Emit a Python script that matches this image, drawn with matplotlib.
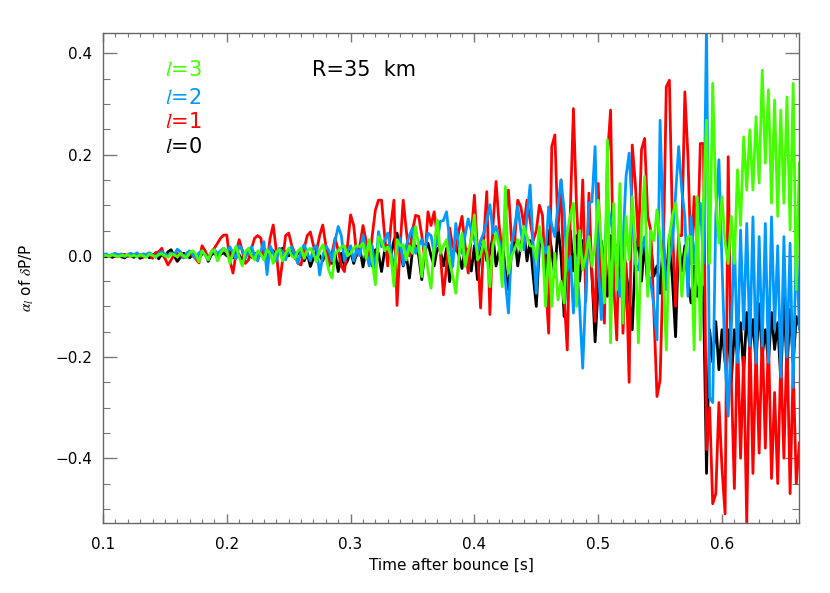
import matplotlib
matplotlib.use("Agg")
import matplotlib.pyplot as plt
import numpy as np
from matplotlib.ticker import MultipleLocator

# time sampling of the curves (s after bounce)
t0 = 0.1
dt = 0.0025

# l=0 coefficient
a0 = [
    0.000, -0.002, 0.001, -0.003, 0.000, 0.002, -0.002, -0.004, 0.001, 0.000,
    -0.003, 0.002, -0.005, -0.002, 0.003, -0.004, 0.000, 0.006, -0.006, 0.004,
    -0.004, 0.008, 0.012, 0.000, -0.011, -0.003, 0.005, 0.002, -0.004, 0.003,
    0.000, -0.006, 0.004, 0.008, -0.011, 0.002, 0.006, -0.004, 0.003, 0.006,
    0.000, 0.008, -0.004, 0.010, 0.002, -0.008, 0.004, 0.010, -0.003, 0.005,
    -0.005, 0.006, 0.000, -0.014, 0.004, 0.010, -0.002, 0.008, 0.015, 0.005,
    0.000, 0.010, -0.005, 0.008, 0.000, -0.010, 0.005, -0.021, -0.005, 0.010,
    0.000, -0.010, 0.012, 0.005, -0.015, 0.004, -0.031, 0.005, -0.020, -0.010,
    0.010, -0.015, 0.005, 0.015, -0.022, 0.010, 0.000, -0.020, 0.012, 0.005,
    -0.031, 0.010, 0.020, 0.000, 0.030, 0.045, 0.010, -0.020, 0.000, -0.044,
    0.010, 0.020, 0.000, -0.047, 0.010, 0.025, 0.000, -0.020, 0.015, 0.010,
    -0.020, 0.015, -0.051, 0.005, 0.020, 0.000, -0.025, 0.015, 0.010, -0.030,
    0.020, -0.047, 0.010, 0.030, -0.010, 0.005, 0.040, -0.020, 0.010, 0.030,
    -0.030, -0.067, 0.010, 0.040, -0.020, 0.020, 0.050, -0.010, 0.030, -0.040,
    -0.100, 0.020, 0.040, -0.030, 0.050, 0.010, -0.040, 0.060, 0.000, -0.120,
    0.010, 0.050, -0.030, 0.040, -0.050, 0.030, -0.020, 0.050, -0.040, -0.170,
    -0.060, 0.030, -0.020, -0.080, 0.040, -0.050, 0.020, -0.060, 0.030, -0.030,
    -0.080, -0.146, 0.000, 0.040, -0.050, 0.030, -0.060, 0.020, -0.040, -0.020,
    -0.074, 0.030, -0.050, 0.040, -0.050, -0.160, 0.030, -0.030, 0.020, -0.050,
    -0.093, -0.020, -0.080, -0.050, -0.067, -0.430, -0.146, -0.210, -0.130, -0.225,
    -0.146, -0.210, -0.146, -0.250, -0.146, -0.198, -0.132, -0.231, -0.112, -0.185,
    -0.126, -0.211, -0.095, -0.198, -0.146, -0.211, -0.112, -0.185, -0.132, -0.248,
    -0.080, -0.225, -0.106, -0.211, -0.120, -0.140,
]

# l=1 coefficient
a1 = [
    0.000, 0.002, -0.001, 0.001, 0.000, -0.002, 0.001, 0.003, -0.001, 0.000,
    0.002, -0.002, 0.003, -0.003, 0.002, 0.004, -0.005, 0.006, 0.008, 0.015,
    -0.005, -0.018, -0.008, 0.002, 0.005, 0.000, -0.004, 0.002, 0.006, 0.000,
    -0.006, -0.014, 0.020, 0.010, -0.005, 0.008, 0.015, 0.025, 0.035, 0.041,
    0.041, -0.010, -0.034, 0.005, 0.032, 0.010, -0.015, -0.008, 0.015, 0.035,
    0.040, 0.035, -0.005, -0.012, 0.035, 0.061, 0.010, -0.057, -0.010, 0.040,
    0.045, 0.020, 0.005, -0.015, -0.018, 0.015, 0.040, 0.047, 0.020, 0.010,
    0.040, 0.061, 0.020, -0.020, 0.005, 0.035, 0.010, -0.020, -0.031, 0.020,
    0.081, 0.060, 0.000, 0.020, 0.060, 0.030, -0.015, 0.040, 0.090, 0.110,
    0.110, 0.040, -0.020, 0.060, 0.110, -0.098, 0.020, 0.110, 0.050, 0.000,
    0.050, 0.080, 0.078, 0.040, -0.008, 0.087, 0.060, 0.087, 0.040, 0.005,
    -0.077, -0.020, 0.055, 0.018, 0.010, 0.050, 0.078, 0.020, -0.034, 0.040,
    0.120, 0.010, -0.103, 0.030, 0.127, -0.116, 0.060, 0.147, 0.060, 0.005,
    0.080, 0.130, 0.030, 0.030, 0.110, 0.097, 0.060, 0.110, 0.070, 0.030,
    0.050, 0.100, 0.080, -0.050, -0.153, 0.216, 0.239, 0.050, 0.150, -0.080,
    -0.186, 0.090, 0.291, 0.097, -0.015, 0.150, -0.090, 0.124, -0.040, -0.130,
    0.143, -0.050, -0.133, 0.197, 0.288, -0.054, -0.166, 0.104, -0.153, -0.015,
    -0.250, 0.219, 0.143, 0.020, 0.210, 0.232, 0.078, 0.050, -0.113, -0.278,
    -0.245, -0.015, 0.334, 0.347, 0.058, -0.100, 0.040, 0.040, 0.324, 0.196,
    -0.015, 0.117, 0.000, 0.222, 0.222, -0.383, -0.300, -0.490, -0.470, -0.290,
    -0.420, -0.510, 0.196, -0.240, -0.460, -0.150, -0.400, -0.200, -0.528, -0.150,
    -0.430, -0.180, -0.390, -0.150, -0.380, -0.160, -0.440, -0.270, -0.450, -0.200,
    -0.400, -0.160, -0.470, -0.220, -0.450, -0.370,
]

# l=2 coefficient
a2 = [
    0.002, 0.004, 0.000, 0.003, 0.005, 0.001, 0.004, -0.002, 0.003, 0.005,
    0.002, 0.006, -0.001, 0.004, 0.003, 0.006, 0.002, -0.003, 0.005, 0.008,
    0.004, 0.000, 0.006, 0.002, 0.013, 0.008, -0.004, 0.005, 0.010, 0.002,
    -0.005, 0.006, 0.010, 0.002, -0.008, 0.005, 0.012, 0.004, 0.010, 0.015,
    0.008, 0.018, 0.005, -0.006, 0.020, 0.012, -0.005, 0.010, 0.018, 0.000,
    -0.010, 0.010, 0.028, -0.037, 0.020, 0.005, -0.010, 0.015, 0.008, -0.008,
    0.012, 0.018, 0.000, -0.015, 0.010, 0.022, 0.005, -0.010, 0.015, 0.020,
    -0.038, 0.000, 0.020, 0.010, -0.010, 0.030, 0.058, 0.040, -0.010, 0.010,
    0.020, -0.010, 0.015, 0.000, 0.041, 0.010, -0.020, 0.020, -0.037, 0.048,
    0.018, 0.030, 0.045, 0.010, -0.021, 0.010, 0.035, -0.018, 0.020, 0.040,
    0.055, 0.005, 0.020, 0.032, 0.010, 0.045, 0.040, 0.005, 0.030, 0.068,
    0.070, 0.087, 0.030, -0.021, 0.064, 0.020, 0.005, 0.040, 0.073, 0.050,
    0.032, 0.005, 0.030, 0.045, 0.070, 0.101, 0.045, 0.058, 0.030, 0.005,
    -0.050, -0.113, 0.020, 0.058, 0.098, 0.050, 0.012, 0.080, 0.140, 0.020,
    -0.074, 0.045, 0.020, 0.005, 0.097, 0.060, 0.038, 0.100, 0.150, 0.090,
    -0.030, 0.000, -0.113, -0.008, -0.100, -0.222, -0.067, 0.104, 0.107, 0.216,
    -0.015, -0.126, 0.000, 0.104, 0.070, 0.038, -0.028, -0.080, 0.025, 0.157,
    0.203, 0.090, -0.015, -0.028, 0.010, 0.038, -0.028, -0.054, -0.100, -0.166,
    0.268, 0.050, -0.067, -0.010, 0.025, 0.120, 0.216, 0.130, 0.078, -0.080,
    0.078, -0.015, 0.050, 0.104, -0.015, 0.460, -0.280, -0.290, 0.080, 0.190,
    -0.015, -0.210, -0.317, -0.146, 0.038, -0.211, 0.051, -0.145, 0.064, -0.178,
    0.077, -0.211, 0.038, -0.178, 0.064, -0.211, 0.077, -0.145, 0.020, -0.240,
    0.038, -0.200, 0.025, -0.260, 0.038, -0.145,
]

# l=3 coefficient
a3 = [
    0.000, 0.001, -0.001, 0.002, 0.000, -0.002, 0.001, 0.000, 0.002, -0.001,
    0.001, -0.002, 0.002, 0.000, -0.003, 0.003, 0.001, -0.002, 0.002, 0.004,
    0.000, -0.003, 0.004, 0.002, -0.002, 0.005, 0.000, -0.004, 0.006, 0.010,
    0.003, -0.012, 0.010, 0.002, -0.008, 0.008, 0.012, -0.010, 0.005, 0.015,
    0.010, -0.015, 0.005, 0.019, -0.002, -0.020, 0.008, 0.015, 0.000, -0.008,
    0.010, 0.003, -0.008, 0.012, 0.005, -0.015, 0.008, 0.012, -0.010, 0.005,
    0.015, 0.000, -0.005, 0.010, 0.015, -0.005, 0.010, 0.015, 0.005, -0.012,
    0.010, 0.022, 0.000, -0.030, -0.044, 0.005, 0.010, 0.018, 0.020, 0.000,
    0.005, 0.015, 0.020, 0.018, 0.025, -0.005, 0.032, -0.010, -0.057, 0.038,
    0.030, 0.010, 0.018, 0.000, -0.060, 0.032, 0.020, 0.022, -0.008, 0.020,
    0.005, 0.058, 0.020, -0.041, 0.018, -0.030, -0.064, 0.020, 0.071, 0.005,
    0.020, 0.032, -0.014, -0.040, -0.074, 0.000, 0.045, -0.021, 0.010, 0.032,
    0.081, -0.008, 0.000, 0.030, 0.005, -0.061, 0.020, 0.045, 0.018, -0.061,
    0.137, -0.034, 0.000, 0.012, 0.032, 0.010, 0.058, 0.038, 0.020, 0.018,
    -0.008, 0.058, 0.020, -0.100, 0.018, -0.100, 0.005, -0.087, -0.050, -0.093,
    0.045, 0.080, 0.104, -0.100, 0.050, -0.028, 0.000, 0.038, -0.021, 0.025,
    0.110, 0.025, -0.093, 0.229, -0.172, 0.104, -0.067, 0.143, -0.133, 0.078,
    -0.008, 0.117, 0.018, -0.172, 0.060, 0.157, -0.080, 0.050, 0.030, 0.091,
    0.038, -0.028, -0.186, 0.038, 0.080, 0.104, 0.038, -0.080, 0.000, 0.038,
    0.038, -0.186, 0.117, -0.166, 0.104, 0.268, -0.015, 0.341, 0.117, 0.025,
    0.117, 0.025, -0.015, 0.078, -0.015, 0.170, 0.060, 0.235, 0.130, 0.249,
    0.130, 0.275, 0.144, 0.367, 0.183, 0.328, 0.104, 0.308, 0.078, 0.288,
    0.104, 0.314, 0.051, 0.341, -0.067, 0.183,
]

series = [a0, a1, a2, a3]
colors = ["black", "#ff0000", "#0099ff", "#44ff00"]
labels = ["0", "1", "2", "3"]

plt.rcParams["mathtext.fontset"] = "stix"

fig = plt.figure(figsize=(8.30, 5.93), dpi=100)
ax = fig.add_axes([103/830, 1-523/593, 696/830, 490.3/593])

for vals, c in zip(series, colors):
    t = t0 + dt*np.arange(len(vals))
    ax.plot(t, vals, color=c, lw=2.0)

ax.set_xlim(0.1, 0.6622)
ax.set_ylim(-0.528, 0.441)
ax.xaxis.set_major_locator(MultipleLocator(0.1))
ax.xaxis.set_minor_locator(MultipleLocator(0.01))
ax.yaxis.set_major_locator(MultipleLocator(0.2))
ax.yaxis.set_minor_locator(MultipleLocator(0.05))
ax.tick_params(which="both", direction="in", top=True, right=True,
               color="#777777", labelsize=11)
ax.tick_params(axis="x", which="major", length=6.5, width=1, pad=10)
ax.tick_params(axis="x", which="minor", length=3, width=0.8)
ax.tick_params(axis="y", which="major", length=10, width=1, pad=8)
ax.tick_params(axis="y", which="minor", length=5, width=0.8)

def fmt(v, pos):
    s = "%.1f" % v
    if s == "-0.0":
        s = "0.0"
    return s.replace("-", "\u2212")

ax.xaxis.set_major_formatter(plt.FuncFormatter(fmt))
ax.yaxis.set_major_formatter(plt.FuncFormatter(fmt))
for s in ax.spines.values():
    s.set_color("#666666")
    s.set_linewidth(1.0)

ax.set_xlabel("Time after bounce [s]", fontsize=11, labelpad=4)
ax.set_ylabel(r"$\alpha_l$ of $\delta$P/P", fontsize=11, labelpad=14)

# legend written as coloured text
ypos = [0.767, 0.818, 0.867, 0.924]
for lab, c, yy in zip(labels, colors, ypos):
    ax.text(0.089, yy, r"$l$=" + lab, color=c, fontsize=15,
            transform=ax.transAxes, va="center", ha="left")
ax.text(0.3, 0.924, "R=35  km", color="black", fontsize=15,
        transform=ax.transAxes, va="center", ha="left")

fig.savefig("out.png", dpi=100)
